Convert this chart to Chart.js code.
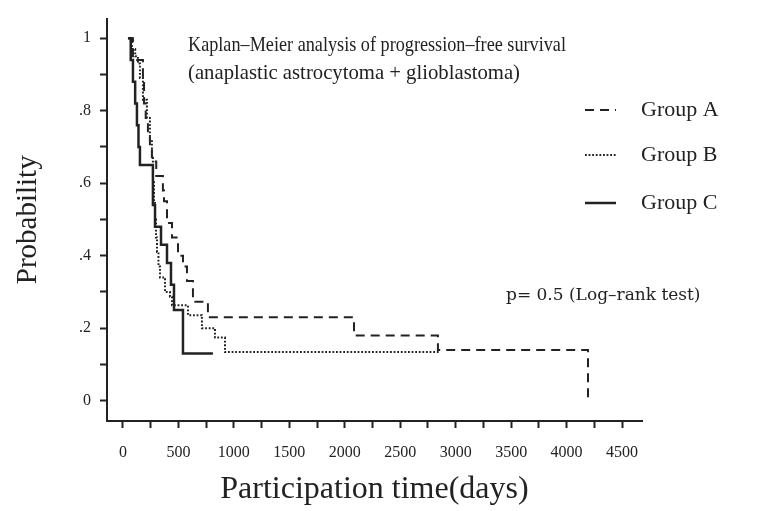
<!DOCTYPE html>
<html>
<head>
<meta charset="utf-8">
<script src="https://cdn.jsdelivr.net/npm/chart.js@4.4.1/dist/chart.umd.min.js"></script>
<style>
html, body { margin: 0; padding: 0; background: #fff; }
#wrap { width: 757px; height: 511px; }
</style>
</head>
<body>
<div id="wrap"><canvas id="km"></canvas></div>
<script>
// Kaplan-Meier progression-free survival
var groupNames = ['Group A', 'Group B', 'Group C'];

var daysA = [45, 90, 180, 190, 205, 225, 243, 261, 300, 360, 370, 397, 442, 496, 541, 577, 631, 766, 2083, 2840, 4193];
var probA = [1.0, 0.94, 0.88, 0.82, 0.78, 0.74, 0.70, 0.66, 0.62, 0.58, 0.55, 0.49, 0.45, 0.40, 0.37, 0.33, 0.273, 0.23, 0.18, 0.14, 0.0];

var daysB = [45, 80, 110, 135, 153, 180, 216, 243, 261, 270, 280, 289, 298, 307, 320, 334, 379, 424, 442, 586, 712, 830, 920, 2858];
var probB = [1.0, 0.97, 0.95, 0.93, 0.89, 0.83, 0.78, 0.72, 0.67, 0.61, 0.55, 0.50, 0.45, 0.41, 0.37, 0.34, 0.30, 0.287, 0.263, 0.236, 0.20, 0.174, 0.134, 0.134];

var daysC = [45, 70, 90, 110, 126, 140, 153, 270, 289, 343, 397, 433, 460, 541, 811];
var probC = [1.0, 0.94, 0.88, 0.82, 0.76, 0.70, 0.65, 0.54, 0.48, 0.43, 0.38, 0.32, 0.25, 0.13, 0.13];

var xTickValues = [0, 250, 500, 750, 1000, 1250, 1500, 1750, 2000, 2250, 2500, 2750, 3000, 3250, 3500, 3750, 4000, 4250, 4500];
var yTickValues = [0, 0.1, 0.2, 0.3, 0.4, 0.5, 0.6, 0.7, 0.8, 0.9, 1];

var titleLines = ['Kaplan\u2013Meier analysis of progression\u2013free survival', '(anaplastic astrocytoma + glioblastoma)'];
var pValueText = 'p= 0.5 (Log\u2013rank test)';

function toPoints(days, probs) {
	return days.map(function (d, i) { return { x: d, y: probs[i] }; });
}

var ink = '#222';

// title lines, p-value and the legend drawn inside the plot like the print
var textPlugin = {
	id: 'kmText',
	afterDraw: function (chart) {
		var ctx = chart.ctx;
		ctx.save();
		ctx.fillStyle = ink;
		ctx.textBaseline = 'alphabetic';
		ctx.font = '21px "Liberation Serif"';
		ctx.fillText(titleLines[0], 188, 51, 378);
		ctx.fillText(titleLines[1], 188, 79, 332);
		ctx.font = '17px "DejaVu Serif"';
		ctx.fillText(pValueText, 506, 300, 202);

		var rows = [110, 155, 203];
		chart.data.datasets.forEach(function (ds, i) {
			ctx.beginPath();
			ctx.setLineDash(ds.borderDash || []);
			ctx.lineWidth = ds.borderWidth;
			ctx.strokeStyle = ds.borderColor;
			ctx.moveTo(585, rows[i]);
			ctx.lineTo(616, rows[i]);
			ctx.stroke();
			ctx.setLineDash([]);
			ctx.font = '22px "Liberation Serif"';
			ctx.textBaseline = 'middle';
			ctx.fillText(ds.label, 641, rows[i]);
		});
		ctx.restore();
	}
};

Chart.defaults.font.family = '"Liberation Serif", serif';
Chart.defaults.color = ink;

var ctx = document.getElementById('km').getContext('2d');
var chart = new Chart(ctx, {
	type: 'line',
	data: {
		datasets: [{
			label: groupNames[0],
			data: toPoints(daysA, probA),
			borderColor: ink,
			borderWidth: 2,
			borderDash: [9, 6]
		}, {
			label: groupNames[1],
			data: toPoints(daysB, probB),
			borderColor: ink,
			borderWidth: 2,
			borderDash: [1.8, 1.8]
		}, {
			label: groupNames[2],
			data: toPoints(daysC, probC),
			borderColor: ink,
			borderWidth: 2.5,
			borderDash: []
		}]
	},
	options: {
		responsive: true,
		maintainAspectRatio: false,
		animation: false,
		layout: { padding: { top: 7, right: 115, bottom: 0, left: 0 } },
		datasets: { line: { stepped: true, pointRadius: 0, fill: false } },
		plugins: { legend: { display: false }, tooltip: { enabled: false } },
		scales: {
			x: {
				type: 'linear',
				min: -144,
				max: 4680,
				afterBuildTicks: function (s) { s.ticks = xTickValues.map(function (v) { return { value: v }; }); },
				afterFit: function (s) { s.height = 90; },
				ticks: {
					autoSkip: false,
					maxRotation: 0,
					padding: 15,
					font: { size: 16 },
					callback: function (v) { return v % 500 === 0 ? String(v) : ''; }
				},
				grid: { display: true, drawOnChartArea: false, drawTicks: true, tickLength: 7, tickWidth: 2, tickColor: ink },
				border: { display: true, color: ink, width: 2 },
				title: {
					display: true,
					text: 'Participation time(days)',
					font: { size: 32 },
					padding: { top: 0, bottom: 2 }
				}
			},
			y: {
				min: -0.056,
				max: 1.054,
				afterBuildTicks: function (s) { s.ticks = yTickValues.map(function (v) { return { value: v }; }); },
				afterFit: function (s) { s.width = 107; },
				ticks: {
					autoSkip: false,
					padding: 9,
					font: { size: 16 },
					callback: function (v) {
						var t = Math.round(v * 10);
						if (t % 2 !== 0) return '';
						if (t === 0) return '0';
						if (t === 10) return '1';
						return '.' + t;
					}
				},
				grid: { display: true, drawOnChartArea: false, drawTicks: true, tickLength: 7, tickWidth: 2, tickColor: ink },
				border: { display: true, color: ink, width: 2 },
				title: {
					display: true,
					text: 'Probability',
					font: { size: 29 },
					padding: { top: 11, bottom: 0 }
				}
			}
		}
	},
	plugins: [textPlugin]
});
</script>
</body>
</html>
